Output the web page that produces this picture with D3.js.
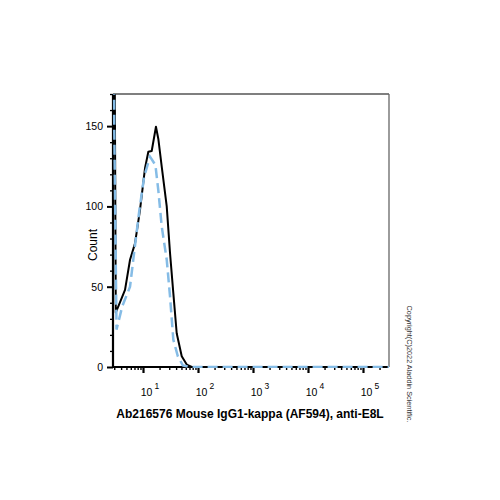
<!DOCTYPE html>
<html><head><meta charset="utf-8">
<script src="https://cdn.jsdelivr.net/npm/d3@7"></script>
<style>body{margin:0;background:#fff;font-family:"Liberation Sans",Arial,sans-serif}</style>
</head><body>
<svg id="c" width="500" height="500"></svg>
<script>
// Data: fluorescence intensity (x) and event count (y)
const blackX = [2.85, 3.05, 3.2, 3.56, 4.71, 5.81, 7.16, 8.82, 10.9, 12.5, 14.4, 17.2, 19.0, 21.9, 27.0, 31.0, 35.6, 41.0, 50.6, 62.4, 76.8, 150, 1000, 10000, 100000, 300000];
const blackY = [400, 200, 34, 37.8, 48, 66.8, 77, 97.8, 124, 134, 134.5, 149.6, 142, 124.7, 100, 71, 46, 21, 6.7, 1.5, 0, 0, 0, 0, 0, 0];
const blueX = [2.85, 3.0, 3.3, 4.2, 5.81, 7.0, 8.6, 10.5, 13.4, 16.8, 19.0, 21.9, 27.0, 31.0, 35.6, 43.0, 53.0, 70.0, 150, 1000, 10000, 100000, 300000];
const blueY = [400, 150, 23.3, 37.8, 50, 73, 97.8, 118.5, 131, 125.8, 110, 87.5, 66.8, 44, 17, 6.7, 1, 0, 0, 0, 0, 0, 0];
const yMajor = [0, 50, 100, 150];
const xMajorExp = [1, 2, 3, 4, 5];
const xLabel = "Ab216576 Mouse IgG1-kappa (AF594), anti-E8L";
const yLabel = "Count";
const copyright = "Copyright(C)2022 Aladdin Scientific.";

const svg = d3.select("#c");
const L = 113, R = 389, T = 94, B = 367;
const x = d3.scaleLog().domain([Math.pow(10, 0.4545), Math.pow(10, 5.473)]).range([L, R]);
const y = d3.scaleLinear().domain([0, 170]).range([B, T]);

svg.append("defs").append("clipPath").attr("id", "clip")
  .append("rect").attr("x", L - 2).attr("y", T).attr("width", R - L + 2).attr("height", B - T + 1);

// frame top/right
svg.append("line").attr("x1", L).attr("x2", R).attr("y1", T).attr("y2", T).attr("stroke", "#555").attr("stroke-width", 1.3);
svg.append("line").attr("x1", R).attr("x2", R).attr("y1", T).attr("y2", B).attr("stroke", "#666").attr("stroke-width", 1.3);

// y axis
const yMinor = d3.range(0, 171, 10).filter(v => !yMajor.includes(v));
const yAx = svg.append("g").attr("transform", `translate(${L},0)`);
yAx.append("g").call(d3.axisLeft(y).tickValues(yMinor).tickSize(3).tickFormat(""))
  .call(s => s.select(".domain").remove())
  .selectAll("line").attr("stroke-width", 1.3);
yAx.append("g").call(d3.axisLeft(y).tickValues(yMajor).tickSize(6).tickPadding(4))
  .call(s => s.select(".domain").remove())
  .call(s => s.selectAll("line").attr("stroke-width", 2))
  .call(s => s.selectAll("text").attr("font-size", 10.5).attr("font-family", "Liberation Sans, Arial, sans-serif"));
yAx.append("line").attr("y1", T).attr("y2", B + 1).attr("stroke", "#000").attr("stroke-width", 2.2);

// x axis
const [d0, d1] = x.domain();
const xMinor = [];
for (let e = 0; e <= 5; e++) for (let k = 2; k <= 9; k++) { const v = k * Math.pow(10, e); if (v >= d0 && v <= d1) xMinor.push(v); }
const xMaj = xMajorExp.map(e => Math.pow(10, e));
const xAx = svg.append("g").attr("transform", `translate(0,${B})`);
xAx.append("g").call(d3.axisBottom(x).tickValues(xMinor).tickSize(3).tickFormat(""))
  .call(s => s.select(".domain").remove())
  .selectAll("line").attr("stroke-width", 1.4);
xAx.append("g").call(d3.axisBottom(x).tickValues(xMaj).tickSize(6).tickFormat(""))
  .call(s => s.select(".domain").remove())
  .selectAll("line").attr("stroke-width", 2.2);
xAx.append("line").attr("x1", L - 1).attr("x2", R).attr("stroke", "#000").attr("stroke-width", 2);

// curves on top of axes
const line = d3.line().x(d => x(d[0])).y(d => y(d[1]));
const g = svg.append("g").attr("clip-path", "url(#clip)");
g.append("path").datum(blackX.map((v, i) => [v, blackY[i]]))
  .attr("d", line).attr("fill", "none").attr("stroke", "#000").attr("stroke-width", 2).attr("stroke-linejoin", "round");
g.append("path").datum(blueX.map((v, i) => [v, blueY[i]]))
  .attr("d", line).attr("fill", "none").attr("stroke", "#85bce6").attr("stroke-width", 2.5)
  .attr("stroke-dasharray", "10,5");

// x tick labels with superscripts
xMajorExp.forEach(e => {
  const t = svg.append("text").attr("x", x(Math.pow(10, e)) + 7).attr("y", 396)
    .attr("font-size", 10.5).attr("text-anchor", "middle");
  t.append("tspan").text("10");
  t.append("tspan").attr("dy", -7).attr("dx", 2).attr("font-size", 8.5).text(e);
});

// labels
svg.append("text").attr("x", 250).attr("y", 418).attr("text-anchor", "middle")
  .attr("font-size", 12).attr("font-weight", "bold").text(xLabel);
svg.append("text").attr("transform", "translate(97,245) rotate(-90)").attr("text-anchor", "middle")
  .attr("font-size", 12).text(yLabel);
svg.append("text").attr("transform", "translate(407,364) rotate(90)").attr("text-anchor", "middle")
  .attr("font-size", 7.3).attr("fill", "#333").text(copyright);
</script>
</body></html>
